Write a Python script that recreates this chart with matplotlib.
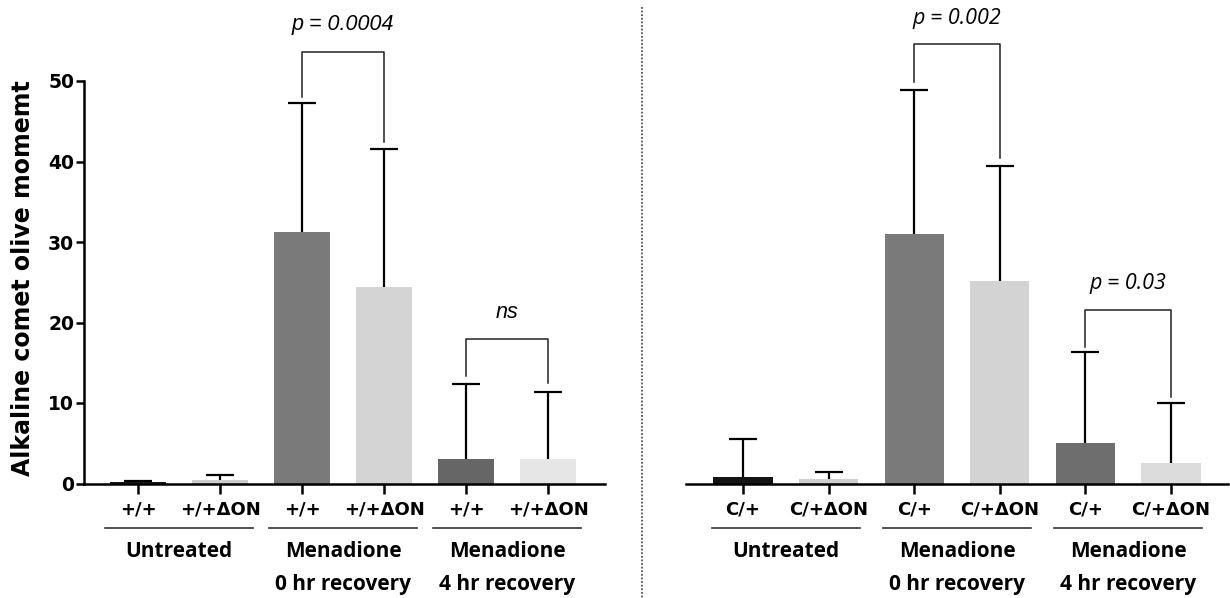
import numpy as np
import matplotlib
matplotlib.use("Agg")
import matplotlib.pyplot as plt
from matplotlib.lines import Line2D

# ---- data ----
left_ticks = ["+/+", "+/+\u0394ON", "+/+", "+/+\u0394ON", "+/+", "+/+\u0394ON"]
right_ticks = ["C/+", "C/+\u0394ON", "C/+", "C/+\u0394ON", "C/+", "C/+\u0394ON"]
group_names = ["Untreated", "Menadione", "Menadione"]
group_subs = ["", "0 hr recovery", "4 hr recovery"]

left_means = [0.15, 0.45, 31.2, 24.4, 3.0, 3.1]
left_err = [0.15, 0.55, 16.1, 17.2, 9.3, 8.3]
right_means = [0.8, 0.6, 31.0, 25.2, 5.0, 2.5]
right_err = [4.7, 0.8, 17.9, 14.3, 11.3, 7.5]

left_colors = ["#1c1c1c", "#cdcdcd", "#7a7a7a", "#d4d4d4", "#666666", "#e6e6e6"]
right_colors = ["#141414", "#cfcfcf", "#7a7a7a", "#d3d3d3", "#6e6e6e", "#dcdcdc"]

# brackets: (bar i, bar j, top, left leg end, right leg end, label, label y)
left_brackets = [(2, 3, 53.6, 48.0, 42.4, "p = 0.0004", 57.0),
                 (4, 5, 17.9, 13.3, 12.5, "ns", 21.2)]
right_brackets = [(2, 3, 54.6, 49.9, 40.4, "p = 0.002", 57.8),
                  (4, 5, 21.6, 17.0, 10.8, "p = 0.03", 24.9)]


def draw_panel(ax, means, err, colors, ticks, brackets, xlim, half, pfont):
    x = np.arange(len(means))
    ax.bar(x, means, width=0.69, color=colors, zorder=2)
    eb = ax.errorbar(x, means, yerr=[np.zeros(len(err)), err], fmt="none",
                     ecolor="black", elinewidth=1.6, capsize=10, capthick=1.6,
                     zorder=3)
    eb[1][0].set_visible(False)

    ax.set_xlim(*xlim)
    ax.set_ylim(0, 50)
    ax.set_xticks(x)
    ax.set_xticklabels(ticks, fontsize=13, fontweight="bold",
                       family="DejaVu Sans")
    ax.tick_params(axis="x", length=7.2, width=1.8, pad=5)
    for s in ["top", "right"]:
        ax.spines[s].set_visible(False)
    ax.spines["bottom"].set_linewidth(1.8)
    ax.spines["left"].set_linewidth(1.8)

    for i, j, top, l1, l2, lab, ty in brackets:
        ax.plot([x[i], x[i], x[j], x[j]], [l1, top, top, l2], color="#222222",
                lw=1.1, clip_on=False)
        ax.text((x[i] + x[j]) / 2, ty, lab, ha="center", va="center",
                fontsize=15.5, style="italic", family=pfont)

    for g in range(3):
        c = (x[2 * g] + x[2 * g + 1]) / 2
        ax.plot([c - half, c + half], [-5.5, -5.5], color="#333333", lw=1.2,
                clip_on=False)
        ax.text(c, -8.5, group_names[g], ha="center", va="center",
                fontsize=15, fontweight="bold", family="Open Sans")
        if group_subs[g]:
            ax.text(c, -12.5, group_subs[g], ha="center", va="center",
                    fontsize=15, fontweight="bold", family="Open Sans")


fig = plt.figure(figsize=(12.3, 5.98), dpi=100)
ax1 = fig.add_axes([84 / 1230, 114.5 / 598, 521 / 1230, 402.5 / 598])
ax2 = fig.add_axes([686 / 1230, 114.5 / 598, 542 / 1230, 402.5 / 598])

draw_panel(ax1, left_means, left_err, left_colors, left_ticks, left_brackets,
           (-0.659, 5.695), 0.9, "Liberation Sans")
draw_panel(ax2, right_means, right_err, right_colors, right_ticks, right_brackets,
           (-0.666, 5.666), 0.865, "Open Sans")

ax1.set_yticks([0, 10, 20, 30, 40, 50])
ax1.set_yticklabels(["0", "10", "20", "30", "40", "50"], fontsize=13.5,
                    fontweight="bold", family="DejaVu Sans")
ax1.tick_params(axis="y", length=6, width=1.8, pad=1)
ax1.set_ylabel("Alkaline comet olive momemt", fontsize=17, fontweight="bold",
               family="DejaVu Sans")
ax1.yaxis.set_label_coords(-0.094, 0.51)

ax2.spines["left"].set_visible(False)
ax2.tick_params(axis="y", left=False, labelleft=False)

fig.add_artist(Line2D([642 / 1230, 642 / 1230], [1 - 7 / 598, 0],
                      transform=fig.transFigure, color="#555555", lw=1.3,
                      linestyle=(0, (1, 1))))

fig.savefig("out.png", dpi=100)
